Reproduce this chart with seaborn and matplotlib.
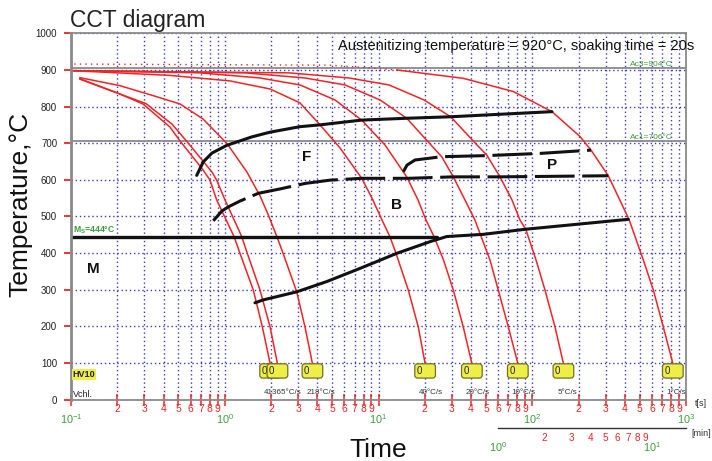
import matplotlib
matplotlib.use("Agg")
import matplotlib.pyplot as plt
import numpy as np
import pandas as pd
import seaborn as sns

# ---------------- data ----------------
# cooling curves: time [s] and temperature [°C]
c1_t = [0.114, 0.198, 0.294, 0.440, 0.512, 0.722, 0.802, 0.886, 1.149, 1.257, 1.533, 1.755, 1.969]
c1_T = [876, 838, 807, 744, 706, 627, 599, 545, 445, 399, 299, 199, 100]
c2_t = [0.114, 0.202, 0.3075, 0.454, 0.579, 0.826, 0.886, 1.004, 1.289, 1.402, 1.696, 1.969, 2.197]
c2_T = [875, 836, 808, 752, 700, 621, 599, 545, 445, 399, 299, 199, 100]
c3_t = [0.114, 0.208, 0.341, 0.512, 0.722, 1.034, 1.395, 1.696, 1.92, 2.187, 2.392, 2.938, 3.327, 3.71]
c3_T = [879, 857, 830, 807, 766, 699, 621, 556, 504, 444, 400, 294, 198, 100]
c4_t = [0.1015, 0.44, 1.082, 1.969, 3.085, 4.165, 5.618, 7.775, 9.07, 10.54, 11.88, 13.0, 15.62, 18.15, 20.06]
c4_T = [898, 885, 870, 848, 810, 750, 687, 604, 550, 490, 444, 399, 299, 198, 100]
c5_t = [0.1015, 0.69, 1.696, 3.085, 5.21, 7.775, 11.02, 15.26, 18.07, 20.37, 22.96, 26.47, 30.65, 35.6, 40.4]
c5_T = [898, 892, 878, 859, 818, 763, 695, 608, 545, 490, 445, 381, 299, 198, 100]
c6_t = [0.1015, 1.354, 3.327, 6.056, 10.23, 15.26, 21.95, 25.76, 30.65, 36.5, 42.4, 46.5, 53.1, 60.1, 69.9, 80.4]
c6_T = [898, 892, 878, 859, 818, 768, 695, 663, 608, 545, 490, 445, 381, 299, 198, 100]
c7_t = [0.1015, 2.618, 6.43, 11.7, 19.77, 29.49, 43.7, 50.5, 61.7, 73.8, 83.2, 90.7, 105.8, 121.0, 140.6, 159.2]
c7_T = [898, 892, 878, 859, 818, 772, 695, 668, 608, 545, 490, 465, 381, 299, 198, 100]
c8_t = [13.13, 35.6, 75.3, 134.4, 204.5, 241.1, 312.3, 425.8, 527.7, 613.0, 711.9, 819.4]
c8_T = [900, 877, 841, 786, 718, 681, 611, 492, 381, 299, 198, 100]
aust_t = [0.105, 4.84, 13.13]
aust_T = [916, 913, 900]

# transformation lines
f_t = [0.657, 0.725, 0.826, 1.03, 1.497, 1.969, 3.085, 4.165, 7.775, 15.26, 29.17, 134.4]
f_T = [612, 649, 673, 694, 717, 730, 745, 750, 763, 768, 772, 786]
b_t = [0.842, 0.96, 1.055, 1.257, 1.652, 2.288, 3.327, 4.837, 7.775, 15.62, 30.65, 61.7, 312.3]
b_T = [488, 515, 526, 542, 563, 575, 590, 599, 604, 604, 608, 608, 611]
p_t = [14.5, 15.32, 17.27, 25.76, 50.5, 112.3, 241.1]
p_T = [622, 640, 654, 663, 666, 672, 681]
be_t = [1.573, 1.781, 2.938, 4.604, 7.58, 13.13, 21.63, 27.77, 48.0, 90.7, 421.3]
be_T = [264, 272, 294, 322, 358, 399, 431, 445, 451, 465, 492]
ms_t = [0.1, 24.0]
ms_T = [444, 444]
ac3 = 904
ac1 = 706

# end-of-curve annotations
hardness = ["0", "0", "0", "0", "0", "0", "0", "0"]
rate_labels = ["41365°C/s", "", "218°C/s", "40°C/s", "20°C/s", "10°C/s", "5°C/s", "1°C/s"]

# phase labels
phase_names = ["F", "B", "P", "M"]
phase_t = [3.43, 13.0, 133.8, 0.139]
phase_T = [662, 530, 640, 355]

y_ticks = list(range(0, 1001, 100))
x_major = [0.1, 1, 10, 100, 1000]
x_major_labels = ["$10^{-1}$", "$10^{0}$", "$10^{1}$", "$10^{2}$", "$10^{3}$"]
min_major = [1, 10]
min_major_labels = ["$10^{0}$", "$10^{1}$"]
mult = [2, 3, 4, 5, 6, 7, 8, 9]

# ---------------- style ----------------
sns.set_theme(style="white")
plt.rcParams['font.family'] = ['Liberation Sans', 'DejaVu Sans']
plt.rcParams['mathtext.fontset'] = 'custom'
plt.rcParams['mathtext.rm'] = 'Liberation Sans'
plt.rcParams['mathtext.it'] = 'Liberation Sans'

RED = '#f02424'
GRID = '#3a3ac8'
GREEN = '#3c9c3c'
GRAY = '#8a8a8a'

fig = plt.figure(figsize=(7.12, 4.61), dpi=100)
W, H = 712, 461
ax = fig.add_axes([71 / W, (H - 399.5) / H, (686 - 71) / W, (399.5 - 33.3) / H])
ax.set_xscale('log')
ax.set_xlim(0.1, 1000)
ax.set_ylim(0, 1000)

# ticks / grid
ax.set_xticks(x_major)
ax.set_xticklabels(x_major_labels)
minor = [m * d for d in [0.1, 1, 10, 100] for m in mult]
ax.set_xticks(minor, minor=True)
ax.set_xticklabels([str(m) for d in [0.1, 1, 10, 100] for m in mult], minor=True)
ax.tick_params(axis='x', which='minor', direction='inout', length=9, width=1.1,
               color=RED, labelcolor=RED, labelsize=7.5, pad=-1.2, bottom=True)
ax.tick_params(axis='x', which='major', direction='inout', length=9, width=1.1,
               color=RED, labelcolor=GREEN, labelsize=7.8, pad=5, bottom=True)
ax.set_yticks(y_ticks)
ax.tick_params(axis='y', direction='out', length=5, width=1.3, color=RED,
               labelcolor='#222222', labelsize=7, pad=5, left=True)
ax.grid(True, which='both', axis='x', color=GRID, ls=(0, (1, 2)), lw=1.0)
ax.grid(True, which='major', axis='y', color=GRID, ls=(0, (1, 2)), lw=1.0)
for s in ax.spines.values():
    s.set_color(GRAY)
    s.set_linewidth(1.3)
ax.spines['left'].set_linewidth(2.0)

ax.axhline(ac3, color=GRAY, lw=1.3, zorder=1.5)
ax.axhline(ac1, color=GRAY, lw=1.3, zorder=1.5)

# cooling curves
curves = [(c1_t, c1_T), (c2_t, c2_T), (c3_t, c3_T), (c4_t, c4_T),
          (c5_t, c5_T), (c6_t, c6_T), (c7_t, c7_T), (c8_t, c8_T)]
rows = []
for i, (ts, Ts) in enumerate(curves):
    for a, b in zip(ts, Ts):
        rows.append((i, a, b))
df = pd.DataFrame(rows, columns=['curve', 't', 'T'])
sns.lineplot(data=df, x='t', y='T', units='curve', estimator=None, sort=False,
             color=RED, lw=1.1, ax=ax, legend=False)
sns.lineplot(x=aust_t, y=aust_T, estimator=None, sort=False, color=RED, lw=1.0,
             linestyle=(0, (1, 3)), ax=ax)

# transformation lines
dash = (0, (13, 2.5))
sns.lineplot(x=f_t, y=f_T, estimator=None, sort=False, color='#111111', lw=2.2, ax=ax)
sns.lineplot(x=b_t, y=b_T, estimator=None, sort=False, color='#111111', lw=2.2, linestyle=dash, ax=ax)
sns.lineplot(x=p_t, y=p_T, estimator=None, sort=False, color='#111111', lw=2.2, linestyle=dash, ax=ax)
sns.lineplot(x=be_t, y=be_T, estimator=None, sort=False, color='#111111', lw=2.2, ax=ax)
sns.lineplot(x=ms_t, y=ms_T, estimator=None, sort=False, color='#111111', lw=2.4, ax=ax)

ax.set_xlabel('')
ax.set_ylabel('Temperature,°C', fontsize=19, color='#111111')
ax.yaxis.set_label_coords(-0.062, 0.534)

# phase labels
for n, t, T in zip(phase_names, phase_t, phase_T):
    ax.text(t, T, n, fontsize=11, fontweight='bold', ha='center', va='center', color='#111111')

# boxes and rates
for i, (ts, Ts) in enumerate(curves):
    ax.annotate(hardness[i] + '    ', xy=(ts[-1], 100), xytext=(-5.8, -2.2),
                textcoords='offset points', ha='left', va='top', fontsize=7,
                bbox=dict(boxstyle='round,pad=0.22,rounding_size=0.3', fc='#eeee46', ec='#70702a', lw=0.9),
                annotation_clip=False)
    if rate_labels[i]:
        ax.annotate(rate_labels[i], xy=(ts[-1], 0), xytext=(-4.3, 2.3),
                    textcoords='offset points', ha='left', va='bottom', fontsize=5.8,
                    color='#333333', annotation_clip=False)

ax.text(0.1028, 69, 'HV10', fontsize=6.5, fontweight='bold', va='center', ha='left',
        color='#222222', bbox=dict(boxstyle='square,pad=0.1', fc='#eeee46', ec='none'))
ax.text(0.1028, 8, 'Vchl.', fontsize=6.5, va='baseline', ha='left', color='#222222')
ax.text(0.103, 455, r'M$_\mathregular{S}$=444°C', fontsize=6.2, fontweight='bold',
        va='baseline', ha='left', color=GREEN)
ax.text(823, 910, 'Ac3=904°C', fontsize=6, va='baseline', ha='right', color=GREEN)
ax.text(823, 712, 'Ac1=706°C', fontsize=6, va='baseline', ha='right', color=GREEN)
ax.text((338 - 71) / 616, (399.5 - 50) / 366.2, 'Austenitizing temperature = 920°C, soaking time = 20s',
        transform=ax.transAxes, fontsize=10.5, va='baseline', ha='left', color='#111111')

# minutes axis
ax2 = fig.add_axes([498 / W, (H - 428) / H, (686 - 498) / W, 0.0005])
ax2.set_xscale('log')
ax2.set_xlim(1, 1000 / 60)
ax2.set_ylim(0, 1)
ax2.set_facecolor('none')
for k in ['top', 'left', 'right']:
    ax2.spines[k].set_visible(False)
ax2.spines['bottom'].set_color('#333333')
ax2.spines['bottom'].set_linewidth(1.0)
ax2.set_yticks([])
ax2.set_xticks(min_major)
ax2.set_xticklabels(min_major_labels)
ax2.set_xticks(mult, minor=True)
ax2.set_xticklabels([str(m) for m in mult], minor=True)
ax2.tick_params(axis='x', which='minor', direction='out', length=4, width=1.1,
                color=RED, labelcolor=RED, labelsize=7.2, pad=-0.5)
ax2.tick_params(axis='x', which='major', direction='out', length=4, width=1.1,
                color='#444444', labelcolor=GREEN, labelsize=7.8, pad=4.8)

fig.text(70 / W, 1 - 26.7 / H, 'CCT diagram', fontsize=16.5, va='baseline', ha='left', color='#222222')
fig.text(378 / W, 1 - 457 / H, 'Time', fontsize=19, va='baseline', ha='center', color='#111111')
fig.text(695 / W, 1 - 403 / H, 't[s]', fontsize=6.5, va='center', ha='left', color='#333333')
fig.text(691 / W, 1 - 433 / H, '[min]', fontsize=6.5, va='center', ha='left', color='#333333')

fig.savefig('out.png', dpi=100)
